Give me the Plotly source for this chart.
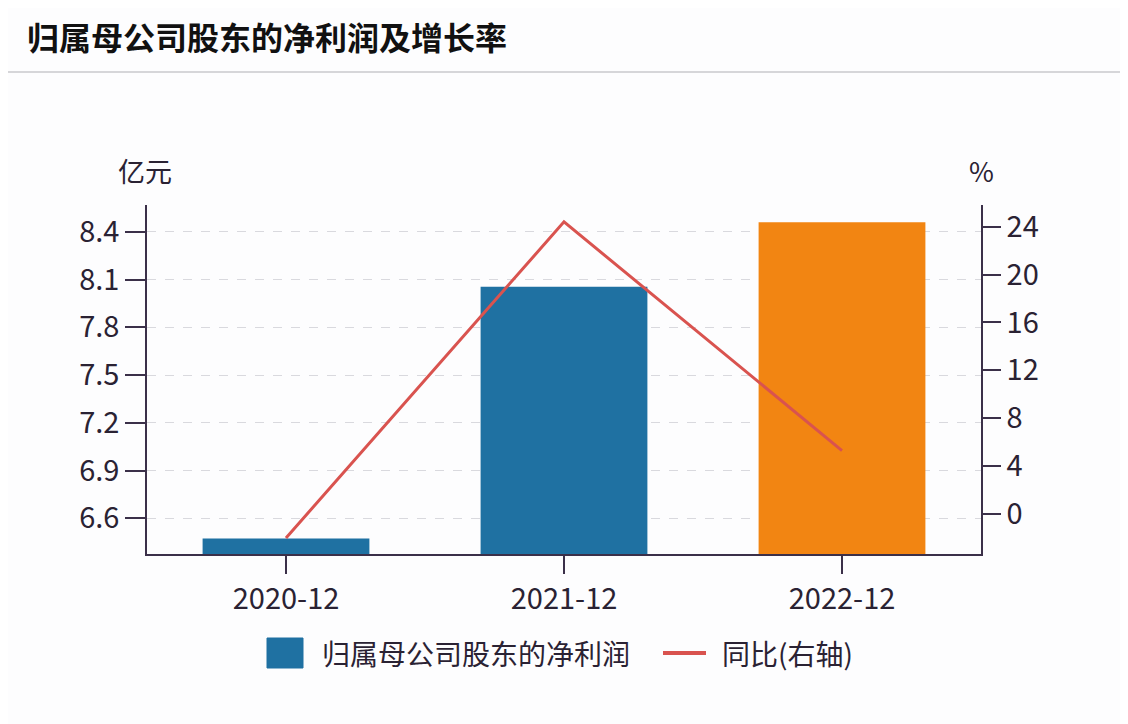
import plotly.graph_objects as go

categories = ["2020-12", "2021-12", "2022-12"]
net_profit = [6.474, 8.055, 8.459]      # 亿元
yoy_growth = [-2.0, 24.4, 5.3]          # %
left_ticks = [6.6, 6.9, 7.2, 7.5, 7.8, 8.1, 8.4]
right_ticks = [0, 4, 8, 12, 16, 20, 24]

bar_colors = ["#1f71a2", "#1f71a2", "#f28512"]
line_color = "#d9534f"
axis_color = "#3b3049"
text_color = "#2a2233"
FONT = "Noto Sans CJK SC"

fig = go.Figure()
fig.add_trace(go.Bar(x=categories, y=net_profit, marker=dict(color=bar_colors, line=dict(width=0)),
                     name="归属母公司股东的净利润", showlegend=False))
fig.add_trace(go.Scatter(x=categories, y=yoy_growth, yaxis="y2", mode="lines",
                         line=dict(color=line_color, width=3), name="同比(右轴)", showlegend=False))

OFF = 8  # page body margin
W, H = 1128 - OFF, 724 - OFF
L, T = 147 - OFF, 205 - OFF
pw, ph = 834, 349
R, B = W - L - pw, H - T - ph

def px(x):  # reference-screen x -> paper
    return (x - OFF - L) / pw

def py(y):  # reference-screen y -> paper
    return (H - B - (y - OFF)) / ph

TICK = 29

fig.update_layout(
    width=W, height=H,
    margin=dict(l=L, r=R, t=T, b=B),
    paper_bgcolor="#fdfdfe", plot_bgcolor="#fdfdfe",
    font=dict(family=FONT, color=text_color, size=TICK),
    bargap=0.4,
    title=dict(text="<b>归属母公司股东的净利润及增长率</b>", x=(27 - OFF) / W, xanchor="left",
               y=1 - (39 - OFF) / H, yanchor="middle", font=dict(size=32, color="#111111", family=FONT)),
    xaxis=dict(type="category", range=[-0.5, 2.5], showline=True, linecolor=axis_color, linewidth=1.5,
               ticks="outside", ticklen=18, tickcolor=axis_color, tickwidth=1.5,
               showgrid=False, tickfont=dict(size=TICK)),
    yaxis=dict(range=[6.376, 8.568], tickvals=left_ticks, ticktext=[f"{v:.1f}" for v in left_ticks],
               showline=True, linecolor=axis_color, linewidth=1.5,
               ticks="outside", ticklen=20, tickcolor=axis_color, tickwidth=1.5,
               showgrid=True, gridcolor="#d9d9de", griddash="dash", gridwidth=1, zeroline=False,
               tickfont=dict(size=TICK)),
    yaxis2=dict(range=[-3.34, 25.81], tickvals=right_ticks, overlaying="y", side="right",
                showline=True, linecolor=axis_color, linewidth=1.5,
                ticks="outside", ticklen=18, tickcolor=axis_color, tickwidth=1.5,
                showgrid=False, zeroline=False, tickfont=dict(size=TICK)),
)

shapes = [
    # outer border (right edge)
    dict(type="line", xref="paper", yref="paper", x0=px(1126), x1=px(1126), y0=py(722), y1=py(OFF),
         line=dict(color="#b9aab8", width=2)),
    # title divider
    dict(type="line", xref="paper", yref="paper", x0=px(OFF), x1=px(1125), y0=py(72), y1=py(72),
         line=dict(color="#c8c8cc", width=1.5)),
    # legend swatches
    dict(type="rect", xref="paper", yref="paper", x0=px(267), x1=px(303), y0=py(668), y1=py(638),
         line=dict(color=bar_colors[0], width=1), fillcolor=bar_colors[0]),
    dict(type="line", xref="paper", yref="paper", x0=px(663), x1=px(706), y0=py(653), y1=py(653),
         line=dict(color=line_color, width=4)),
]
fig.update_layout(shapes=shapes)

annotations = [
    dict(text="亿元", x=px(145), y=py(170), xref="paper", yref="paper", showarrow=False,
         xanchor="center", yanchor="middle", font=dict(size=27)),
    dict(text="%", x=px(981), y=py(170), xref="paper", yref="paper", showarrow=False,
         xanchor="center", yanchor="middle", font=dict(size=27)),
    dict(text="归属母公司股东的净利润", x=px(320), y=py(653), xref="paper", yref="paper", showarrow=False,
         xanchor="left", yanchor="middle", font=dict(size=28)),
    dict(text="同比(右轴)", x=px(720), y=py(653), xref="paper", yref="paper", showarrow=False,
         xanchor="left", yanchor="middle", font=dict(size=28)),
]
fig.update_layout(annotations=annotations)

fig.write_html("out.html")
